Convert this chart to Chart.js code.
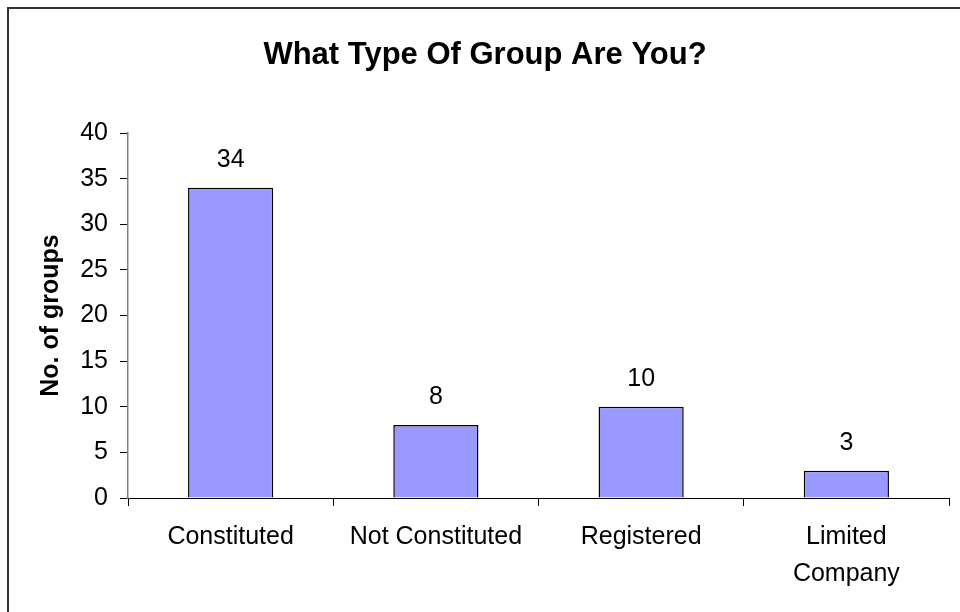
<!DOCTYPE html>
<html>
<head>
<meta charset="utf-8">
<script src="https://cdn.jsdelivr.net/npm/chart.js@4"></script>
<style>
  html, body { margin: 0; padding: 0; background: #fff; }
  canvas { display: block; }
</style>
</head>
<body>
<canvas id="c" width="960" height="612"></canvas>
<script>
const titleText = 'What Type Of Group Are You?';
const yAxisTitle = 'No. of groups';
const categories = ['Constituted', 'Not Constituted', 'Registered', ['Limited', 'Company']];
const groupCounts = [34, 8, 10, 3];
const yMin = 0, yMax = 40, yStep = 5;

const FONT = "'Liberation Sans', Arial, sans-serif";

const frame = {
  id: 'frame',
  beforeDraw(chart) {
    const ctx = chart.ctx;
    ctx.save();
    ctx.fillStyle = '#fff';
    ctx.fillRect(0, 0, chart.width, chart.height);
    ctx.strokeStyle = '#333';
    ctx.lineWidth = 2;
    ctx.beginPath();
    ctx.moveTo(8, chart.height);
    ctx.lineTo(8, 8);
    ctx.lineTo(chart.width, 8);
    ctx.stroke();
    ctx.restore();
  }
};

const valueLabels = {
  id: 'valueLabels',
  afterDatasetsDraw(chart) {
    const ctx = chart.ctx;
    const meta = chart.getDatasetMeta(0);
    ctx.save();
    ctx.font = '25px ' + FONT;
    ctx.fillStyle = '#000';
    ctx.textAlign = 'center';
    ctx.textBaseline = 'middle';
    meta.data.forEach((bar, i) => {
      ctx.fillText(String(chart.data.datasets[0].data[i]), bar.x, bar.y - 28);
    });
    ctx.restore();
  }
};

new Chart(document.getElementById('c'), {
  type: 'bar',
  data: {
    labels: categories,
    datasets: [{
      data: groupCounts,
      backgroundColor: '#9999FF',
      borderColor: '#000',
      borderWidth: 1.5,
      categoryPercentage: 1,
      barPercentage: 0.415
    }]
  },
  options: {
    responsive: false,
    animation: false,
    devicePixelRatio: 1,
    layout: { padding: { top: 0, left: 21, right: 11, bottom: 0 } },
    plugins: {
      legend: { display: false },
      tooltip: { enabled: false },
      title: {
        display: true,
        text: titleText,
        color: '#000',
        font: { family: FONT, size: 31, weight: 'bold', lineHeight: 1.2 },
        padding: { top: 37, bottom: 58.8 }
      }
    },
    scales: {
      x: {
        grid: { drawOnChartArea: false, offset: true, tickLength: 8, color: '#000', tickWidth: 1 },
        border: { color: '#000', width: 1 },
        ticks: {
          color: '#000',
          font: { family: FONT, size: 25, lineHeight: 1.48 },
          padding: 13,
          maxRotation: 0,
          autoSkip: false
        },
        afterFit(scale) { scale.height = 114; }
      },
      y: {
        min: yMin,
        max: yMax,
        grid: { drawOnChartArea: false, tickLength: 8, color: '#000', tickWidth: 1 },
        border: { color: '#808080', width: 1.5 },
        ticks: {
          stepSize: yStep,
          color: '#000',
          font: { family: FONT, size: 25 },
          padding: 12
        },
        title: {
          display: true,
          text: yAxisTitle,
          color: '#000',
          font: { family: FONT, size: 25, weight: 'bold', lineHeight: 1.2 },
          padding: { top: 15, bottom: 0 }
        },
        afterFit(scale) { scale.width = 107; }
      }
    }
  },
  plugins: [frame, valueLabels]
});
</script>
</body>
</html>
